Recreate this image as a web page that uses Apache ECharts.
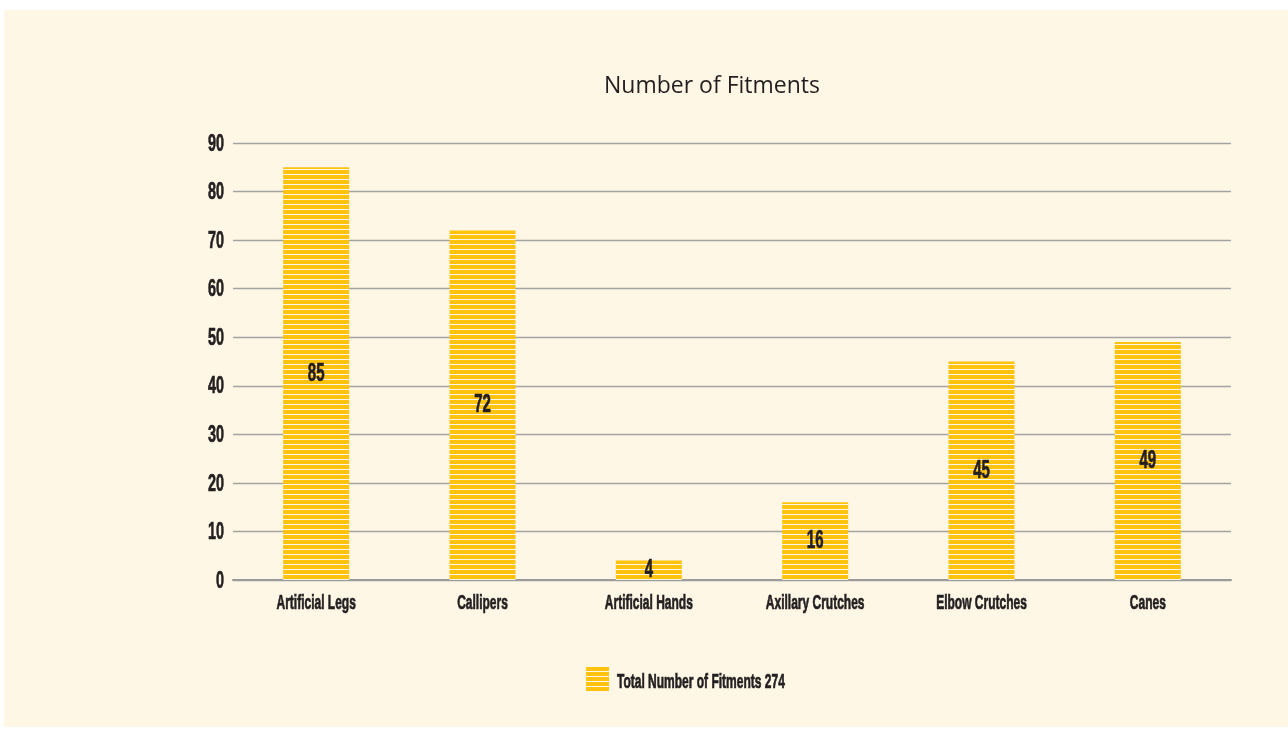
<!DOCTYPE html>
<html>
<head>
<meta charset="utf-8">
<script src="https://cdn.jsdelivr.net/npm/echarts@6/dist/echarts.min.js"></script>
<style>
  html, body { margin: 0; padding: 0; background: #ffffff; }
  #panel { position: absolute; left: 4px; top: 10px; width: 1284px; height: 717px; background: #fef7e5; overflow: hidden; }
  #chart { position: absolute; left: -4px; top: -10px; width: 1288px; height: 729px; }
</style>
</head>
<body>
<div id="panel"><div id="chart"></div></div>
<script>
const categories = ['Artificial Legs', 'Callipers', 'Artificial Hands', 'Axillary Crutches', 'Elbow Crutches', 'Canes'];
const fitments = [85, 72, 4, 16, 45, 49];
const yTicks = [0, 10, 20, 30, 40, 50, 60, 70, 80, 90];
const seriesName = 'Total Number of Fitments 274';
const chartTitle = 'Number of Fitments';

const INK = '#231f20';
const GOTHIC = "'Liberation Sans', Arial, sans-serif";
const NARROW = 0.6; // horizontal squeeze for the condensed gothic lettering

// striped fill: yellow bands separated by thin light lines
function stripePattern() {
  const c = document.createElement('canvas');
  c.width = 4; c.height = 5;
  const g = c.getContext('2d');
  g.fillStyle = '#ffc20e';
  g.fillRect(0, 0, 4, 4);
  g.fillStyle = '#fef7e5';
  g.fillRect(0, 4, 4, 1);
  return c;
}
const stripes = { image: stripePattern(), repeat: 'repeat' };

const chart = echarts.init(document.getElementById('chart'), null, { renderer: 'canvas' });
chart.setOption({
  backgroundColor: 'transparent',
  animation: false,
  title: {
    text: chartTitle,
    left: 707, top: 70, textAlign: 'center',
    textStyle: { fontFamily: "'Open Sans', sans-serif", fontWeight: 'normal', fontSize: 23, color: INK }
  },
  legend: {
    data: [seriesName],
    left: 581, top: 662,
    itemWidth: 23, itemHeight: 24,
    icon: 'rect',
    formatter: () => ' ',
    textStyle: { fontSize: 4 }
  },
  grid: { left: 233, right: 57, top: 143, bottom: 149 },
  xAxis: {
    type: 'category',
    data: categories,
    axisLine: { show: true, lineStyle: { color: '#9b9b9b', width: 2 } },
    axisTick: { show: false },
    axisLabel: { show: false }
  },
  yAxis: {
    type: 'value',
    min: 0, max: 90, interval: 10,
    axisLine: { show: false },
    axisTick: { show: false },
    axisLabel: { show: false },
    splitLine: { lineStyle: { color: '#a3a3a3', width: 1.3 } }
  },
  series: [{
    name: seriesName,
    type: 'bar',
    data: fitments,
    barWidth: 66,
    itemStyle: { color: stripes },
    label: { show: false }
  }]
});

// condensed lettering, placed through the chart's own axis scales
function squeezed(text, x, y, size, align) {
  return {
    type: 'text', x: x, y: y, scaleX: NARROW, z: 10,
    style: {
      text: text, align: align, verticalAlign: 'middle',
      fontFamily: GOTHIC, fontWeight: 'bold', fontSize: size, fill: INK,
      stroke: INK, lineWidth: 0.7
    }
  };
}

function drawLettering() {
  const els = [];
  yTicks.forEach(v => {
    const y = chart.convertToPixel({ yAxisIndex: 0 }, v);
    els.push(squeezed(String(v), 224, y + 1, 24, 'right'));
  });
  const axisY = chart.convertToPixel({ yAxisIndex: 0 }, 0);
  categories.forEach(name => {
    const x = chart.convertToPixel({ xAxisIndex: 0 }, name);
    els.push(squeezed(name, x, axisY + 23, 20, 'center'));
  });
  fitments.forEach((v, i) => {
    const p = chart.convertToPixel({ seriesIndex: 0 }, [i, v / 2]);
    els.push(squeezed(String(v), p[0], p[1], 25, 'center'));
  });
  els.push(squeezed(seriesName, 617, 682, 20, 'left'));
  chart.setOption({ graphic: { elements: els } });
}
drawLettering();
</script>
</body>
</html>
